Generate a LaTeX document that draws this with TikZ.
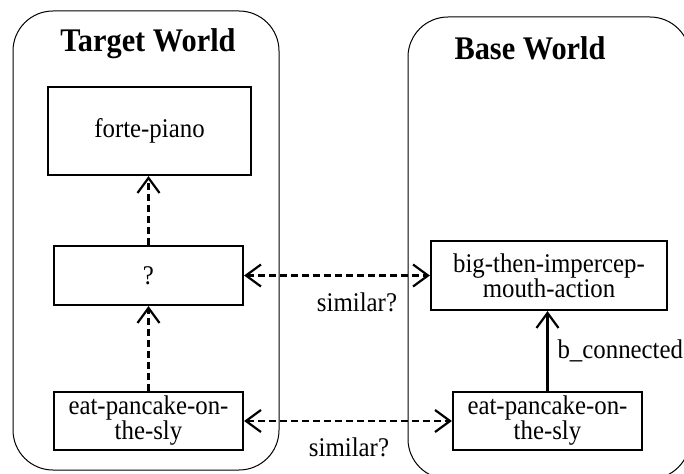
\documentclass[tikz,border=0pt]{standalone}
\usepackage{fontspec}
\setmainfont{Liberation Serif}[FakeStretch=0.92]
\usetikzlibrary{arrows.meta}
\begin{document}
\begin{tikzpicture}[x=1pt,y=-1pt,
  world/.style={draw, line width=1pt, rounded corners=40pt},
  item/.style={draw, line width=2.2pt, align=center, inner sep=0pt,
    font=\fontsize{27}{25}\selectfont},
  title/.style={font=\fontsize{33}{33}\selectfont\bfseries, anchor=base},
  lbl/.style={font=\fontsize{27}{27}\selectfont},
  tip/.style={-{Straight Barb[length=15pt,width=22pt]}},
  dtip/.style={{Straight Barb[length=15pt,width=22pt]}-{Straight Barb[length=15pt,width=22pt]}},
  dline/.style={line width=2.2pt, dash pattern=on 7pt off 4pt},
  sline/.style={line width=2.2pt}
]
\useasboundingbox (0,0) rectangle (684,473);
\clip (0,0) rectangle (684,473);
\draw[world] (13,11) rectangle (279,470);
\draw[world] (408,17) rectangle (690,479);
\node[title] (tw) at (148,52) {Target World};
\node[title] (bw) at (530,60) {Base World};
\node[item, minimum width=203pt, minimum height=88pt] (forte) at (149.5,131) {forte-piano};
\node[item, minimum width=189pt, minimum height=59pt] (q) at (148.5,275.5) {?};
\node[item, minimum width=189pt, minimum height=58pt] (leat) at (148.5,421) {eat-pancake-on-\\the-sly};
\node[item, minimum width=236pt, minimum height=69pt] (big) at (549,275.5) {big-then-impercep-\\mouth-action};
\node[item, minimum width=189pt, minimum height=58pt] (reat) at (547.5,421) {eat-pancake-on-\\the-sly};
\draw[dline, tip] (q.north) -- (q.north |- forte.south);
\draw[dline, tip] (leat) -- (q);
\draw[sline, tip] (reat.north) -- (reat.north |- big.south);
\draw[dline, dtip] (q.east) -- (big.west);
\draw[dline, dtip] (leat.east) -- (reat.west);
\node[lbl] (s1) at (357,302) {similar?};
\node[lbl] (s2) at (349,447) {similar?};
\node[lbl, anchor=west] (bc) at (554,351) {b\_connected};
\end{tikzpicture}
\end{document}
